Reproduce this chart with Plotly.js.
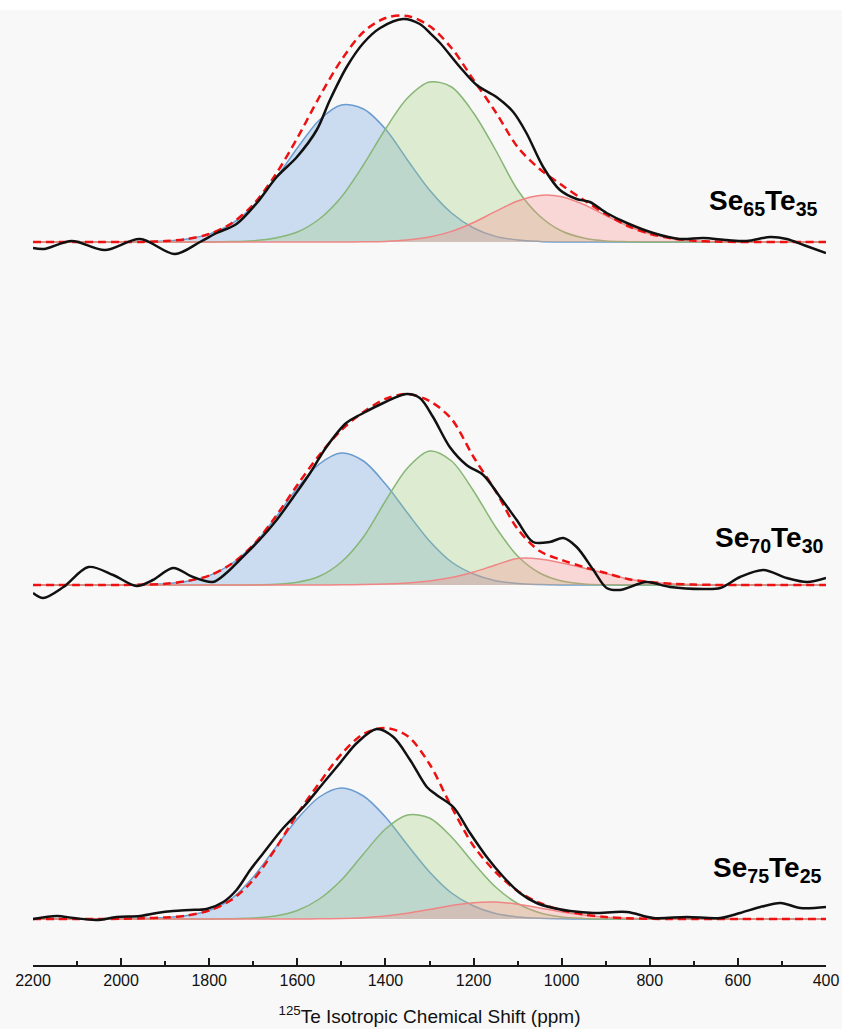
<!DOCTYPE html>
<html>
<head>
<meta charset="utf-8">
<script src="https://cdn.plot.ly/plotly-3.0.1.min.js"></script>
<style>html,body{margin:0;padding:0;background:#f8f8f8;}#chart{width:842px;height:1029px;}</style>
</head>
<body>
<div id="chart"></div>
<script>
// ---- Data (ppm grid shared by fitted components) ----
const shiftGrid = [2200,2150,2100,2050,2000,1950,1900,1850,1800,1750,1700,1650,1600,1550,1500,1450,1400,1350,1300,1250,1200,1150,1100,1050,1000,950,900,850,800,750,700,650,600,550,500,450,400];

// Se65Te35
const blue65  = [0,0,0,0,0,0.1, 1,3,7.9,18,36,63,94,122,137,133,113,82,52,29,14,5.6,2,0.6,0.1, 0,0,0,0,0,0,0,0,0,0,0,0];
const green65 = [0,0,0,0,0,0,0,0,0.1, 0.4,1.3,4,10,23,45,77,113,144,160,155,129,92,52,26,11,4,1,0.3, 0,0,0,0,0,0,0,0,0];
const red65   = [0,0,0,0,0,0,0,0,0,0,0,0,0,0,0, 0.2,0.6,1.9,4.9,10.6,19.5,30.6,41,46.6,45.3,37.5,26.5,16,8.2,3.6,1.3,0.4,0.1, 0,0,0,0];
const fit65   = [0,0,0,0,0,0.1, 1,3,8,18.5,37.5,67,104,145,182,210,224,226,216,194,162,130,95,73,57,42,28,16,8.2,3.6,1.3,0.4,0.1, 0,0,0,0];
const expShift65 = [2200,2175,2112,2037,1957,1878,1821,1783,1738,1692,1647,1601,1556,1526,1488,1450,1412,1360,1322,1299,1276,1231,1193,1148,1110,1080,1042,1004,966,936,898,852,792,732,679,625,580,526,489,451,400];
const exp65      = [-6,-7,1,-8,3,-12,0,9,18,39,65,85,112,142,175,199,214,223,218,209,199,175,157,145,130,109,75,52,43,40,29,19,9,3,4,2,1,5,3,-3,-11];

// Se70Te30
const blue70  = [0,0,0,0,0, 0.4,1.2,3.7,9.4,21,40,67,97,121,132,124,101,72,44,23,11,4.3,1.5,0.5,0.1, 0,0,0,0,0,0,0,0,0,0,0,0];
const green70 = [0,0,0,0,0,0,0,0,0,0, 0.1,0.7,2.7,8.7,23,48,84,117,134,124,94,58,29,12,4,1,0.2, 0,0,0,0,0,0,0,0,0,0];
const red70   = [0,0,0,0,0,0,0,0,0,0,0,0,0,0, 0.2, 0.5,1,2,4,7.5,13,20,26.5,26,22,17,11.5,6,3,1.2,0.4,0.1, 0,0,0,0,0];
const fit70   = [0,0,0,0,0, 0.4,1.2,4,9.4,21,40,68,100,130,155,173,186,191,184,166,128,94,56,34,25,18,12,6,3,1.2,0.4,0.1, 0,0,0,0,0];
const expShift70 = [2200,2177,2131,2074,2018,1965,1928,1882,1837,1792,1761,1731,1686,1647,1609,1571,1534,1489,1450,1405,1352,1322,1292,1254,1216,1178,1140,1102,1065,1027,996,966,928,898,868,808,754,679,640,595,542,489,443,400];
const exp70      = [-8,-13,-2,18,10,-1,5,17,8,3,12,25,45,65,88,112,138,162,172,182,191,187,168,138,120,110,88,65,43,43,47,38,15,-3,-5,3,-2,-4,-3,8,15,7,3,7];

// Se75Te25
const blue75  = [0,0,0,0, 0.2,0.7,1.5,3.5,8.5,20,42,71,100,122,131,123,102,74,47,26,13,5.5,2.1,0.7,0.2, 0,0,0,0,0,0,0,0,0,0,0,0];
const green75 = [0,0,0,0,0,0,0,0,0, 0.2,0.9,3,8.5,20,39,65,90,104,101,82,56,32,15.5,6.3,2.1,0.6,0.1, 0,0,0,0,0,0,0,0,0,0];
const red75   = [0,0,0,0,0,0,0,0,0,0,0,0,0, 0.15,0.5,1.3,2.9,5.7,9.5,13.5,16.3,16.9,14.8,11.1,7.1,3.9,1.8,0.7,0.2, 0,0,0,0,0,0,0,0];
const fit75   = [0,0,0,0, 0.2,0.7,1.5,3.5,8.5,19,39,70,105,136,165,185,191,183,155,112,73,47,28,16,9,4.5,1.9,0.7,0.2, 0,0,0,0,0,0,0,0];
const expShift75 = [2200,2146,2108,2056,2010,1957,1919,1882,1844,1806,1768,1738,1707,1677,1632,1586,1541,1503,1465,1420,1382,1344,1306,1284,1246,1208,1170,1132,1095,1057,1019,981,928,852,792,716,640,595,549,503,458,400];
const exp75      = [0,3,1,-1,2,3,6,8,9,10,17,29,49,66,91,112,136,156,176,190,182,159,132,124,112,86,62,42,26,16,11,8,6,7,1,2,1,6,12,16,11,12];

const sampleLabels = ['Se<sub>65</sub>Te<sub>35</sub>', 'Se<sub>70</sub>Te<sub>30</sub>', 'Se<sub>75</sub>Te<sub>25</sub>'];
const tickValues = [2200,2000,1800,1600,1400,1200,1000,800,600,400];

// ---- Styles ----
const compStyles = [
  {line:'#6a9ccf', fill:'rgba(120,170,230,0.35)'},
  {line:'#88b676', fill:'rgba(160,205,120,0.30)'},
  {line:'#f08585', fill:'rgba(255,140,140,0.30)'}
];

function panel(ya, comps, fit, ex, ey) {
  const tr = [];
  comps.forEach((c, i) => {
    tr.push({x: shiftGrid, y: c, xaxis:'x', yaxis: ya, type:'scatter', mode:'lines',
      line:{color: compStyles[i].line, width:1.5, shape:'spline', smoothing:0.9},
      fill:'tozeroy', fillcolor: compStyles[i].fill, hoverinfo:'skip'});
  });
  tr.push({x: shiftGrid, y: fit, xaxis:'x', yaxis: ya, type:'scatter', mode:'lines',
    line:{color:'#ee1111', width:2.5, dash:'8px,5px', shape:'spline', smoothing:0.9}, hoverinfo:'skip'});
  tr.push({x: ex, y: ey, xaxis:'x', yaxis: ya, type:'scatter', mode:'lines',
    line:{color:'#111111', width:2.5, shape:'spline', smoothing:0.9}, hoverinfo:'skip'});
  return tr;
}

const traces = [].concat(
  panel('y3', [blue65, green65, red65], fit65, expShift65, exp65),
  panel('y2', [blue70, green70, red70], fit70, expShift70, exp70),
  panel('y',  [blue75, green75, red75], fit75, expShift75, exp75)
);

const H = 965; // plot-area height in px
const d1 = 325 / H, d2 = 645 / H;
const labelFont = {family:'Liberation Sans, Arial, sans-serif', size:28, color:'#000'};

const layout = {
  width: 842, height: 1029,
  margin: {l:33, r:16, t:0, b:64},
  paper_bgcolor: '#f8f8f8',
  plot_bgcolor: 'rgba(0,0,0,0)',
  showlegend: false,
  xaxis: {
    range: [2200, 400], autorange: false, anchor: 'y',
    showline: true, linecolor: '#1a1a1a', linewidth: 1.5,
    ticks: 'inside', ticklen: 7, tickwidth: 1.5, tickcolor: '#1a1a1a',
    tickmode: 'array', tickvals: tickValues, ticktext: tickValues.map(String),
    minor: {dtick: 100, tick0: 400, ticks: 'inside', ticklen: 4, tickwidth: 1.5, tickcolor: '#1a1a1a'},
    showgrid: false, zeroline: false,
    tickfont: {family:'Liberation Sans, Arial, sans-serif', size:16, color:'#111'},
    title: {text: '<sup>125</sup>Te Isotropic Chemical Shift (ppm)',
            font: {family:'Liberation Sans, Arial, sans-serif', size:19, color:'#111'}, standoff: 22}
  },
  yaxis:  {domain: [0, d1], range: [-46, 279], visible: false},
  yaxis2: {domain: [d1, d2], range: [-55, 265], visible: false, anchor: 'x'},
  yaxis3: {domain: [d2, 1], range: [-78, 242], visible: false, anchor: 'x'},
  shapes: [
    {type:'rect', xref:'paper', yref:'paper', x0:-0.1, x1:1.1, y0:1 - 10/H, y1:1.05, fillcolor:'#ffffff', line:{width:0}, layer:'below'}
  ],
  annotations: [
    {text:'<b>'+sampleLabels[0]+'</b>', xref:'paper', x:0.9924, xanchor:'right', yref:'y3', y:40, yanchor:'middle', showarrow:false, font:labelFont},
    {text:'<b>'+sampleLabels[1]+'</b>', xref:'paper', x:1.0, xanchor:'right', yref:'y2', y:46, yanchor:'middle', showarrow:false, font:labelFont},
    {text:'<b>'+sampleLabels[2]+'</b>', xref:'paper', x:0.9975, xanchor:'right', yref:'y', y:50, yanchor:'middle', showarrow:false, font:labelFont}
  ]
};

Plotly.newPlot('chart', traces, layout, {displayModeBar:false});
</script>
</body>
</html>
